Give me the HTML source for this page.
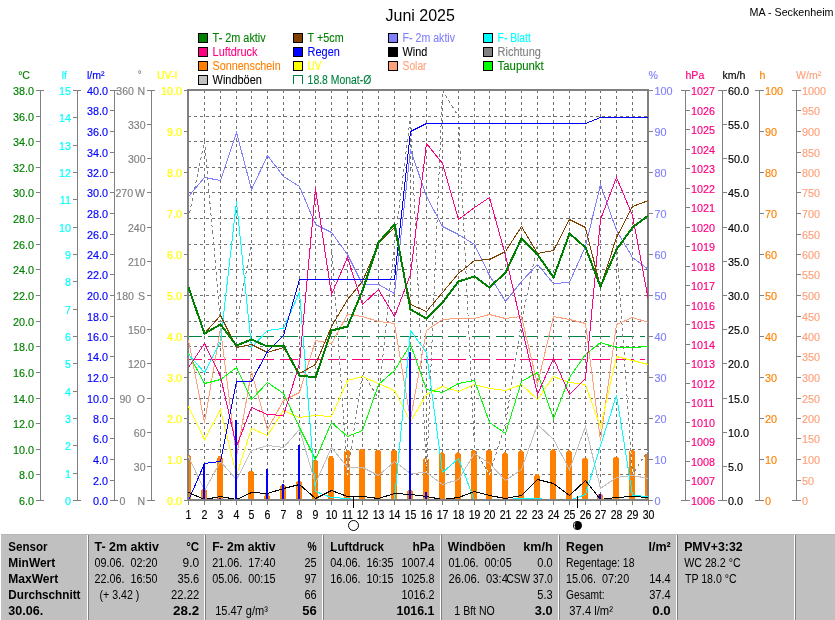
<!DOCTYPE html>
<html><head><meta charset="utf-8"><title>Juni 2025</title>
<style>html,body{margin:0;padding:0;background:#fff;}body{width:835px;height:620px;overflow:hidden;font-family:"Liberation Sans",sans-serif;}</style></head>
<body>
<svg width="835" height="620" viewBox="0 0 835 620" style="display:block;will-change:transform">
<rect x="0" y="0" width="835" height="620" fill="#fff"/>
<text x="385.5" y="20.8" font-family="Liberation Sans, sans-serif" font-size="16" fill="#000">Juni 2025</text>
<text x="833.5" y="16" font-family="Liberation Sans, sans-serif" font-size="11" fill="#000" text-anchor="end" textLength="84" lengthAdjust="spacingAndGlyphs">MA - Seckenheim</text>
<rect x="198.5" y="33.5" width="9" height="9" fill="#008000" stroke="#000" stroke-width="1" shape-rendering="crispEdges"/>
<text x="212.6" y="42" font-family="Liberation Sans, sans-serif" font-size="12" fill="#008000" stroke="#008000" stroke-width="0.1" textLength="53.1" lengthAdjust="spacingAndGlyphs">T- 2m aktiv</text>
<rect x="198.5" y="47.5" width="9" height="9" fill="#FF0080" stroke="#000" stroke-width="1" shape-rendering="crispEdges"/>
<text x="212.6" y="56" font-family="Liberation Sans, sans-serif" font-size="12" fill="#FF0080" stroke="#FF0080" stroke-width="0.1" textLength="44.8" lengthAdjust="spacingAndGlyphs">Luftdruck</text>
<rect x="198.5" y="61.5" width="9" height="9" fill="#FF8000" stroke="#000" stroke-width="1" shape-rendering="crispEdges"/>
<text x="212.6" y="70" font-family="Liberation Sans, sans-serif" font-size="12" fill="#FF8000" stroke="#FF8000" stroke-width="0.1" textLength="68.0" lengthAdjust="spacingAndGlyphs">Sonnenschein</text>
<rect x="198.5" y="75.5" width="9" height="9" fill="#C0C0C0" stroke="#000" stroke-width="1" shape-rendering="crispEdges"/>
<text x="212.6" y="84" font-family="Liberation Sans, sans-serif" font-size="12" fill="#000000" stroke="#000000" stroke-width="0.1" textLength="49.3" lengthAdjust="spacingAndGlyphs">Windböen</text>
<rect x="293.5" y="33.5" width="9" height="9" fill="#804000" stroke="#000" stroke-width="1" shape-rendering="crispEdges"/>
<text x="307.6" y="42" font-family="Liberation Sans, sans-serif" font-size="12" fill="#008000" stroke="#008000" stroke-width="0.1" textLength="36.0" lengthAdjust="spacingAndGlyphs">T +5cm</text>
<rect x="293.5" y="47.5" width="9" height="9" fill="#0000FF" stroke="#000" stroke-width="1" shape-rendering="crispEdges"/>
<text x="307.6" y="56" font-family="Liberation Sans, sans-serif" font-size="12" fill="#0000FF" stroke="#0000FF" stroke-width="0.1" textLength="32.2" lengthAdjust="spacingAndGlyphs">Regen</text>
<rect x="293.5" y="61.5" width="9" height="9" fill="#FFFF00" stroke="#000" stroke-width="1" shape-rendering="crispEdges"/>
<text x="307.6" y="70" font-family="Liberation Sans, sans-serif" font-size="12" fill="#FFFF00" stroke="#FFFF00" stroke-width="0.1" textLength="13.8" lengthAdjust="spacingAndGlyphs">UV</text>
<path d="M293.5,84 V75.5 H302.5 V84" fill="none" stroke="#008040" stroke-width="1" shape-rendering="crispEdges"/>
<text x="307.6" y="84" font-family="Liberation Sans, sans-serif" font-size="12" fill="#008040" stroke="#008040" stroke-width="0.1" textLength="63.7" lengthAdjust="spacingAndGlyphs">18.8 Monat-Ø</text>
<rect x="388.5" y="33.5" width="9" height="9" fill="#8080FF" stroke="#000" stroke-width="1" shape-rendering="crispEdges"/>
<text x="402.6" y="42" font-family="Liberation Sans, sans-serif" font-size="12" fill="#8080FF" stroke="#8080FF" stroke-width="0.1" textLength="52.4" lengthAdjust="spacingAndGlyphs">F- 2m aktiv</text>
<rect x="388.5" y="47.5" width="9" height="9" fill="#000000" stroke="#000" stroke-width="1" shape-rendering="crispEdges"/>
<text x="402.6" y="56" font-family="Liberation Sans, sans-serif" font-size="12" fill="#000000" stroke="#000000" stroke-width="0.1" textLength="24.7" lengthAdjust="spacingAndGlyphs">Wind</text>
<rect x="388.5" y="61.5" width="9" height="9" fill="#FFA07A" stroke="#000" stroke-width="1" shape-rendering="crispEdges"/>
<text x="402.6" y="70" font-family="Liberation Sans, sans-serif" font-size="12" fill="#FFA07A" stroke="#FFA07A" stroke-width="0.1" textLength="23.9" lengthAdjust="spacingAndGlyphs">Solar</text>
<rect x="483.5" y="33.5" width="9" height="9" fill="#00FFFF" stroke="#000" stroke-width="1" shape-rendering="crispEdges"/>
<text x="497.6" y="42" font-family="Liberation Sans, sans-serif" font-size="12" fill="#00FFFF" stroke="#00FFFF" stroke-width="0.1" textLength="33.2" lengthAdjust="spacingAndGlyphs">F- Blatt</text>
<rect x="483.5" y="47.5" width="9" height="9" fill="#808080" stroke="#000" stroke-width="1" shape-rendering="crispEdges"/>
<text x="497.6" y="56" font-family="Liberation Sans, sans-serif" font-size="12" fill="#808080" stroke="#808080" stroke-width="0.1" textLength="43.3" lengthAdjust="spacingAndGlyphs">Richtung</text>
<rect x="483.5" y="61.5" width="9" height="9" fill="#00FF00" stroke="#000" stroke-width="1" shape-rendering="crispEdges"/>
<text x="497.6" y="70" font-family="Liberation Sans, sans-serif" font-size="12" fill="#008000" stroke="#008000" stroke-width="0.1" textLength="46.1" lengthAdjust="spacingAndGlyphs">Taupunkt</text>
<rect x="40" y="90" width="1" height="411" fill="#808080"/>
<rect x="36" y="500" width="8" height="1" fill="#808080"/>
<text transform="translate(34,504.7) scale(0.985,1)" font-family="Liberation Sans, sans-serif" font-size="11" fill="#008000" stroke="#008000" stroke-width="0.15" text-anchor="end">6.0</text>
<rect x="36" y="474" width="4" height="1" fill="#808080"/>
<text transform="translate(34,478.7) scale(0.985,1)" font-family="Liberation Sans, sans-serif" font-size="11" fill="#008000" stroke="#008000" stroke-width="0.15" text-anchor="end">8.0</text>
<rect x="36" y="449" width="4" height="1" fill="#808080"/>
<text transform="translate(34,453.7) scale(0.985,1)" font-family="Liberation Sans, sans-serif" font-size="11" fill="#008000" stroke="#008000" stroke-width="0.15" text-anchor="end">10.0</text>
<rect x="36" y="423" width="4" height="1" fill="#808080"/>
<text transform="translate(34,427.7) scale(0.985,1)" font-family="Liberation Sans, sans-serif" font-size="11" fill="#008000" stroke="#008000" stroke-width="0.15" text-anchor="end">12.0</text>
<rect x="36" y="398" width="4" height="1" fill="#808080"/>
<text transform="translate(34,402.7) scale(0.985,1)" font-family="Liberation Sans, sans-serif" font-size="11" fill="#008000" stroke="#008000" stroke-width="0.15" text-anchor="end">14.0</text>
<rect x="36" y="372" width="4" height="1" fill="#808080"/>
<text transform="translate(34,376.7) scale(0.985,1)" font-family="Liberation Sans, sans-serif" font-size="11" fill="#008000" stroke="#008000" stroke-width="0.15" text-anchor="end">16.0</text>
<rect x="36" y="346" width="4" height="1" fill="#808080"/>
<text transform="translate(34,350.7) scale(0.985,1)" font-family="Liberation Sans, sans-serif" font-size="11" fill="#008000" stroke="#008000" stroke-width="0.15" text-anchor="end">18.0</text>
<rect x="36" y="321" width="4" height="1" fill="#808080"/>
<text transform="translate(34,325.7) scale(0.985,1)" font-family="Liberation Sans, sans-serif" font-size="11" fill="#008000" stroke="#008000" stroke-width="0.15" text-anchor="end">20.0</text>
<rect x="36" y="295" width="4" height="1" fill="#808080"/>
<text transform="translate(34,299.7) scale(0.985,1)" font-family="Liberation Sans, sans-serif" font-size="11" fill="#008000" stroke="#008000" stroke-width="0.15" text-anchor="end">22.0</text>
<rect x="36" y="269" width="4" height="1" fill="#808080"/>
<text transform="translate(34,273.7) scale(0.985,1)" font-family="Liberation Sans, sans-serif" font-size="11" fill="#008000" stroke="#008000" stroke-width="0.15" text-anchor="end">24.0</text>
<rect x="36" y="244" width="4" height="1" fill="#808080"/>
<text transform="translate(34,248.7) scale(0.985,1)" font-family="Liberation Sans, sans-serif" font-size="11" fill="#008000" stroke="#008000" stroke-width="0.15" text-anchor="end">26.0</text>
<rect x="36" y="218" width="4" height="1" fill="#808080"/>
<text transform="translate(34,222.7) scale(0.985,1)" font-family="Liberation Sans, sans-serif" font-size="11" fill="#008000" stroke="#008000" stroke-width="0.15" text-anchor="end">28.0</text>
<rect x="36" y="192" width="4" height="1" fill="#808080"/>
<text transform="translate(34,196.7) scale(0.985,1)" font-family="Liberation Sans, sans-serif" font-size="11" fill="#008000" stroke="#008000" stroke-width="0.15" text-anchor="end">30.0</text>
<rect x="36" y="167" width="4" height="1" fill="#808080"/>
<text transform="translate(34,171.7) scale(0.985,1)" font-family="Liberation Sans, sans-serif" font-size="11" fill="#008000" stroke="#008000" stroke-width="0.15" text-anchor="end">32.0</text>
<rect x="36" y="141" width="4" height="1" fill="#808080"/>
<text transform="translate(34,145.7) scale(0.985,1)" font-family="Liberation Sans, sans-serif" font-size="11" fill="#008000" stroke="#008000" stroke-width="0.15" text-anchor="end">34.0</text>
<rect x="36" y="116" width="4" height="1" fill="#808080"/>
<text transform="translate(34,120.7) scale(0.985,1)" font-family="Liberation Sans, sans-serif" font-size="11" fill="#008000" stroke="#008000" stroke-width="0.15" text-anchor="end">36.0</text>
<rect x="36" y="90" width="8" height="1" fill="#808080"/>
<text transform="translate(34,94.7) scale(0.985,1)" font-family="Liberation Sans, sans-serif" font-size="11" fill="#008000" stroke="#008000" stroke-width="0.15" text-anchor="end">38.0</text>
<text transform="translate(30,79.2) scale(0.96,1)" font-family="Liberation Sans, sans-serif" font-size="11" fill="#008000" stroke="#008000" stroke-width="0.15" text-anchor="end">°C</text>
<rect x="77" y="90" width="1" height="411" fill="#808080"/>
<rect x="73" y="500" width="8" height="1" fill="#808080"/>
<text transform="translate(71,504.7) scale(0.985,1)" font-family="Liberation Sans, sans-serif" font-size="11" fill="#00FFFF" stroke="#00FFFF" stroke-width="0.15" text-anchor="end">0</text>
<rect x="73" y="473" width="4" height="1" fill="#808080"/>
<text transform="translate(71,477.7) scale(0.985,1)" font-family="Liberation Sans, sans-serif" font-size="11" fill="#00FFFF" stroke="#00FFFF" stroke-width="0.15" text-anchor="end">1</text>
<rect x="73" y="445" width="4" height="1" fill="#808080"/>
<text transform="translate(71,449.7) scale(0.985,1)" font-family="Liberation Sans, sans-serif" font-size="11" fill="#00FFFF" stroke="#00FFFF" stroke-width="0.15" text-anchor="end">2</text>
<rect x="73" y="418" width="4" height="1" fill="#808080"/>
<text transform="translate(71,422.7) scale(0.985,1)" font-family="Liberation Sans, sans-serif" font-size="11" fill="#00FFFF" stroke="#00FFFF" stroke-width="0.15" text-anchor="end">3</text>
<rect x="73" y="391" width="4" height="1" fill="#808080"/>
<text transform="translate(71,395.7) scale(0.985,1)" font-family="Liberation Sans, sans-serif" font-size="11" fill="#00FFFF" stroke="#00FFFF" stroke-width="0.15" text-anchor="end">4</text>
<rect x="73" y="363" width="4" height="1" fill="#808080"/>
<text transform="translate(71,367.7) scale(0.985,1)" font-family="Liberation Sans, sans-serif" font-size="11" fill="#00FFFF" stroke="#00FFFF" stroke-width="0.15" text-anchor="end">5</text>
<rect x="73" y="336" width="4" height="1" fill="#808080"/>
<text transform="translate(71,340.7) scale(0.985,1)" font-family="Liberation Sans, sans-serif" font-size="11" fill="#00FFFF" stroke="#00FFFF" stroke-width="0.15" text-anchor="end">6</text>
<rect x="73" y="309" width="4" height="1" fill="#808080"/>
<text transform="translate(71,313.7) scale(0.985,1)" font-family="Liberation Sans, sans-serif" font-size="11" fill="#00FFFF" stroke="#00FFFF" stroke-width="0.15" text-anchor="end">7</text>
<rect x="73" y="281" width="4" height="1" fill="#808080"/>
<text transform="translate(71,285.7) scale(0.985,1)" font-family="Liberation Sans, sans-serif" font-size="11" fill="#00FFFF" stroke="#00FFFF" stroke-width="0.15" text-anchor="end">8</text>
<rect x="73" y="254" width="4" height="1" fill="#808080"/>
<text transform="translate(71,258.7) scale(0.985,1)" font-family="Liberation Sans, sans-serif" font-size="11" fill="#00FFFF" stroke="#00FFFF" stroke-width="0.15" text-anchor="end">9</text>
<rect x="73" y="227" width="4" height="1" fill="#808080"/>
<text transform="translate(71,231.7) scale(0.985,1)" font-family="Liberation Sans, sans-serif" font-size="11" fill="#00FFFF" stroke="#00FFFF" stroke-width="0.15" text-anchor="end">10</text>
<rect x="73" y="199" width="4" height="1" fill="#808080"/>
<text transform="translate(71,203.7) scale(0.985,1)" font-family="Liberation Sans, sans-serif" font-size="11" fill="#00FFFF" stroke="#00FFFF" stroke-width="0.15" text-anchor="end">11</text>
<rect x="73" y="172" width="4" height="1" fill="#808080"/>
<text transform="translate(71,176.7) scale(0.985,1)" font-family="Liberation Sans, sans-serif" font-size="11" fill="#00FFFF" stroke="#00FFFF" stroke-width="0.15" text-anchor="end">12</text>
<rect x="73" y="145" width="4" height="1" fill="#808080"/>
<text transform="translate(71,149.7) scale(0.985,1)" font-family="Liberation Sans, sans-serif" font-size="11" fill="#00FFFF" stroke="#00FFFF" stroke-width="0.15" text-anchor="end">13</text>
<rect x="73" y="117" width="4" height="1" fill="#808080"/>
<text transform="translate(71,121.7) scale(0.985,1)" font-family="Liberation Sans, sans-serif" font-size="11" fill="#00FFFF" stroke="#00FFFF" stroke-width="0.15" text-anchor="end">14</text>
<rect x="73" y="90" width="8" height="1" fill="#808080"/>
<text transform="translate(71,94.7) scale(0.985,1)" font-family="Liberation Sans, sans-serif" font-size="11" fill="#00FFFF" stroke="#00FFFF" stroke-width="0.15" text-anchor="end">15</text>
<text transform="translate(67,79.2) scale(0.96,1)" font-family="Liberation Sans, sans-serif" font-size="11" fill="#00FFFF" stroke="#00FFFF" stroke-width="0.15" text-anchor="end">lf</text>
<rect x="114" y="90" width="1" height="411" fill="#808080"/>
<rect x="110" y="500" width="8" height="1" fill="#808080"/>
<text transform="translate(108,504.7) scale(0.985,1)" font-family="Liberation Sans, sans-serif" font-size="11" fill="#0000FF" stroke="#0000FF" stroke-width="0.15" text-anchor="end">0.0</text>
<rect x="110" y="480" width="4" height="1" fill="#808080"/>
<text transform="translate(108,484.7) scale(0.985,1)" font-family="Liberation Sans, sans-serif" font-size="11" fill="#0000FF" stroke="#0000FF" stroke-width="0.15" text-anchor="end">2.0</text>
<rect x="110" y="459" width="4" height="1" fill="#808080"/>
<text transform="translate(108,463.7) scale(0.985,1)" font-family="Liberation Sans, sans-serif" font-size="11" fill="#0000FF" stroke="#0000FF" stroke-width="0.15" text-anchor="end">4.0</text>
<rect x="110" y="438" width="4" height="1" fill="#808080"/>
<text transform="translate(108,442.7) scale(0.985,1)" font-family="Liberation Sans, sans-serif" font-size="11" fill="#0000FF" stroke="#0000FF" stroke-width="0.15" text-anchor="end">6.0</text>
<rect x="110" y="418" width="4" height="1" fill="#808080"/>
<text transform="translate(108,422.7) scale(0.985,1)" font-family="Liberation Sans, sans-serif" font-size="11" fill="#0000FF" stroke="#0000FF" stroke-width="0.15" text-anchor="end">8.0</text>
<rect x="110" y="398" width="4" height="1" fill="#808080"/>
<text transform="translate(108,402.7) scale(0.985,1)" font-family="Liberation Sans, sans-serif" font-size="11" fill="#0000FF" stroke="#0000FF" stroke-width="0.15" text-anchor="end">10.0</text>
<rect x="110" y="377" width="4" height="1" fill="#808080"/>
<text transform="translate(108,381.7) scale(0.985,1)" font-family="Liberation Sans, sans-serif" font-size="11" fill="#0000FF" stroke="#0000FF" stroke-width="0.15" text-anchor="end">12.0</text>
<rect x="110" y="356" width="4" height="1" fill="#808080"/>
<text transform="translate(108,360.7) scale(0.985,1)" font-family="Liberation Sans, sans-serif" font-size="11" fill="#0000FF" stroke="#0000FF" stroke-width="0.15" text-anchor="end">14.0</text>
<rect x="110" y="336" width="4" height="1" fill="#808080"/>
<text transform="translate(108,340.7) scale(0.985,1)" font-family="Liberation Sans, sans-serif" font-size="11" fill="#0000FF" stroke="#0000FF" stroke-width="0.15" text-anchor="end">16.0</text>
<rect x="110" y="316" width="4" height="1" fill="#808080"/>
<text transform="translate(108,320.7) scale(0.985,1)" font-family="Liberation Sans, sans-serif" font-size="11" fill="#0000FF" stroke="#0000FF" stroke-width="0.15" text-anchor="end">18.0</text>
<rect x="110" y="295" width="4" height="1" fill="#808080"/>
<text transform="translate(108,299.7) scale(0.985,1)" font-family="Liberation Sans, sans-serif" font-size="11" fill="#0000FF" stroke="#0000FF" stroke-width="0.15" text-anchor="end">20.0</text>
<rect x="110" y="274" width="4" height="1" fill="#808080"/>
<text transform="translate(108,278.7) scale(0.985,1)" font-family="Liberation Sans, sans-serif" font-size="11" fill="#0000FF" stroke="#0000FF" stroke-width="0.15" text-anchor="end">22.0</text>
<rect x="110" y="254" width="4" height="1" fill="#808080"/>
<text transform="translate(108,258.7) scale(0.985,1)" font-family="Liberation Sans, sans-serif" font-size="11" fill="#0000FF" stroke="#0000FF" stroke-width="0.15" text-anchor="end">24.0</text>
<rect x="110" y="234" width="4" height="1" fill="#808080"/>
<text transform="translate(108,238.7) scale(0.985,1)" font-family="Liberation Sans, sans-serif" font-size="11" fill="#0000FF" stroke="#0000FF" stroke-width="0.15" text-anchor="end">26.0</text>
<rect x="110" y="213" width="4" height="1" fill="#808080"/>
<text transform="translate(108,217.7) scale(0.985,1)" font-family="Liberation Sans, sans-serif" font-size="11" fill="#0000FF" stroke="#0000FF" stroke-width="0.15" text-anchor="end">28.0</text>
<rect x="110" y="192" width="4" height="1" fill="#808080"/>
<text transform="translate(108,196.7) scale(0.985,1)" font-family="Liberation Sans, sans-serif" font-size="11" fill="#0000FF" stroke="#0000FF" stroke-width="0.15" text-anchor="end">30.0</text>
<rect x="110" y="172" width="4" height="1" fill="#808080"/>
<text transform="translate(108,176.7) scale(0.985,1)" font-family="Liberation Sans, sans-serif" font-size="11" fill="#0000FF" stroke="#0000FF" stroke-width="0.15" text-anchor="end">32.0</text>
<rect x="110" y="152" width="4" height="1" fill="#808080"/>
<text transform="translate(108,156.7) scale(0.985,1)" font-family="Liberation Sans, sans-serif" font-size="11" fill="#0000FF" stroke="#0000FF" stroke-width="0.15" text-anchor="end">34.0</text>
<rect x="110" y="131" width="4" height="1" fill="#808080"/>
<text transform="translate(108,135.7) scale(0.985,1)" font-family="Liberation Sans, sans-serif" font-size="11" fill="#0000FF" stroke="#0000FF" stroke-width="0.15" text-anchor="end">36.0</text>
<rect x="110" y="110" width="4" height="1" fill="#808080"/>
<text transform="translate(108,114.7) scale(0.985,1)" font-family="Liberation Sans, sans-serif" font-size="11" fill="#0000FF" stroke="#0000FF" stroke-width="0.15" text-anchor="end">38.0</text>
<rect x="110" y="90" width="8" height="1" fill="#808080"/>
<text transform="translate(108,94.7) scale(0.985,1)" font-family="Liberation Sans, sans-serif" font-size="11" fill="#0000FF" stroke="#0000FF" stroke-width="0.15" text-anchor="end">40.0</text>
<text transform="translate(104.5,79.2) scale(0.96,1)" font-family="Liberation Sans, sans-serif" font-size="11" fill="#0000FF" stroke="#0000FF" stroke-width="0.15" text-anchor="end">l/m²</text>
<rect x="151" y="90" width="1" height="411" fill="#808080"/>
<rect x="147" y="500" width="8" height="1" fill="#808080"/>
<text transform="translate(145,504.7) scale(0.96,1)" font-family="Liberation Sans, sans-serif" font-size="11" fill="#808080" stroke="#808080" stroke-width="0.15" text-anchor="end">N</text>
<text transform="translate(119.5,504.7) scale(0.96,1)" font-family="Liberation Sans, sans-serif" font-size="11" fill="#808080" stroke="#808080" stroke-width="0.15" text-anchor="start">0</text>
<rect x="147" y="466" width="4" height="1" fill="#808080"/>
<text transform="translate(145.5,470.7) scale(0.96,1)" font-family="Liberation Sans, sans-serif" font-size="11" fill="#808080" stroke="#808080" stroke-width="0.15" text-anchor="end">30</text>
<rect x="147" y="432" width="4" height="1" fill="#808080"/>
<text transform="translate(145.5,436.7) scale(0.96,1)" font-family="Liberation Sans, sans-serif" font-size="11" fill="#808080" stroke="#808080" stroke-width="0.15" text-anchor="end">60</text>
<rect x="147" y="398" width="4" height="1" fill="#808080"/>
<text transform="translate(145,402.7) scale(0.96,1)" font-family="Liberation Sans, sans-serif" font-size="11" fill="#808080" stroke="#808080" stroke-width="0.15" text-anchor="end">O</text>
<text transform="translate(119.5,402.7) scale(0.96,1)" font-family="Liberation Sans, sans-serif" font-size="11" fill="#808080" stroke="#808080" stroke-width="0.15" text-anchor="start">90</text>
<rect x="147" y="363" width="4" height="1" fill="#808080"/>
<text transform="translate(145.5,367.7) scale(0.96,1)" font-family="Liberation Sans, sans-serif" font-size="11" fill="#808080" stroke="#808080" stroke-width="0.15" text-anchor="end">120</text>
<rect x="147" y="329" width="4" height="1" fill="#808080"/>
<text transform="translate(145.5,333.7) scale(0.96,1)" font-family="Liberation Sans, sans-serif" font-size="11" fill="#808080" stroke="#808080" stroke-width="0.15" text-anchor="end">150</text>
<rect x="147" y="295" width="4" height="1" fill="#808080"/>
<text transform="translate(145,299.7) scale(0.96,1)" font-family="Liberation Sans, sans-serif" font-size="11" fill="#808080" stroke="#808080" stroke-width="0.15" text-anchor="end">S</text>
<text transform="translate(116.3,299.7) scale(0.96,1)" font-family="Liberation Sans, sans-serif" font-size="11" fill="#808080" stroke="#808080" stroke-width="0.15" text-anchor="start">180</text>
<rect x="147" y="261" width="4" height="1" fill="#808080"/>
<text transform="translate(145.5,265.7) scale(0.96,1)" font-family="Liberation Sans, sans-serif" font-size="11" fill="#808080" stroke="#808080" stroke-width="0.15" text-anchor="end">210</text>
<rect x="147" y="227" width="4" height="1" fill="#808080"/>
<text transform="translate(145.5,231.7) scale(0.96,1)" font-family="Liberation Sans, sans-serif" font-size="11" fill="#808080" stroke="#808080" stroke-width="0.15" text-anchor="end">240</text>
<rect x="147" y="192" width="4" height="1" fill="#808080"/>
<text transform="translate(145,196.7) scale(0.96,1)" font-family="Liberation Sans, sans-serif" font-size="11" fill="#808080" stroke="#808080" stroke-width="0.15" text-anchor="end">W</text>
<text transform="translate(115.5,196.7) scale(0.96,1)" font-family="Liberation Sans, sans-serif" font-size="11" fill="#808080" stroke="#808080" stroke-width="0.15" text-anchor="start">270</text>
<rect x="147" y="158" width="4" height="1" fill="#808080"/>
<text transform="translate(145.5,162.7) scale(0.96,1)" font-family="Liberation Sans, sans-serif" font-size="11" fill="#808080" stroke="#808080" stroke-width="0.15" text-anchor="end">300</text>
<rect x="147" y="124" width="4" height="1" fill="#808080"/>
<text transform="translate(145.5,128.7) scale(0.96,1)" font-family="Liberation Sans, sans-serif" font-size="11" fill="#808080" stroke="#808080" stroke-width="0.15" text-anchor="end">330</text>
<rect x="147" y="90" width="8" height="1" fill="#808080"/>
<text transform="translate(145,94.7) scale(0.96,1)" font-family="Liberation Sans, sans-serif" font-size="11" fill="#808080" stroke="#808080" stroke-width="0.15" text-anchor="end">N</text>
<text transform="translate(116.3,94.7) scale(0.96,1)" font-family="Liberation Sans, sans-serif" font-size="11" fill="#808080" stroke="#808080" stroke-width="0.15" text-anchor="start">360</text>
<text transform="translate(141.5,78.2) scale(0.96,1)" font-family="Liberation Sans, sans-serif" font-size="10" fill="#808080" stroke="#808080" stroke-width="0.15" text-anchor="end">°</text>
<rect x="184" y="500" width="3" height="1" fill="#808080"/>
<text transform="translate(182,504.7) scale(0.985,1)" font-family="Liberation Sans, sans-serif" font-size="11" fill="#FFFF00" stroke="#FFFF00" stroke-width="0.15" text-anchor="end">0.0</text>
<rect x="184" y="459" width="3" height="1" fill="#808080"/>
<text transform="translate(182,463.7) scale(0.985,1)" font-family="Liberation Sans, sans-serif" font-size="11" fill="#FFFF00" stroke="#FFFF00" stroke-width="0.15" text-anchor="end">1.0</text>
<rect x="184" y="418" width="3" height="1" fill="#808080"/>
<text transform="translate(182,422.7) scale(0.985,1)" font-family="Liberation Sans, sans-serif" font-size="11" fill="#FFFF00" stroke="#FFFF00" stroke-width="0.15" text-anchor="end">2.0</text>
<rect x="184" y="377" width="3" height="1" fill="#808080"/>
<text transform="translate(182,381.7) scale(0.985,1)" font-family="Liberation Sans, sans-serif" font-size="11" fill="#FFFF00" stroke="#FFFF00" stroke-width="0.15" text-anchor="end">3.0</text>
<rect x="184" y="336" width="3" height="1" fill="#808080"/>
<text transform="translate(182,340.7) scale(0.985,1)" font-family="Liberation Sans, sans-serif" font-size="11" fill="#FFFF00" stroke="#FFFF00" stroke-width="0.15" text-anchor="end">4.0</text>
<rect x="184" y="295" width="3" height="1" fill="#808080"/>
<text transform="translate(182,299.7) scale(0.985,1)" font-family="Liberation Sans, sans-serif" font-size="11" fill="#FFFF00" stroke="#FFFF00" stroke-width="0.15" text-anchor="end">5.0</text>
<rect x="184" y="254" width="3" height="1" fill="#808080"/>
<text transform="translate(182,258.7) scale(0.985,1)" font-family="Liberation Sans, sans-serif" font-size="11" fill="#FFFF00" stroke="#FFFF00" stroke-width="0.15" text-anchor="end">6.0</text>
<rect x="184" y="213" width="3" height="1" fill="#808080"/>
<text transform="translate(182,217.7) scale(0.985,1)" font-family="Liberation Sans, sans-serif" font-size="11" fill="#FFFF00" stroke="#FFFF00" stroke-width="0.15" text-anchor="end">7.0</text>
<rect x="184" y="172" width="3" height="1" fill="#808080"/>
<text transform="translate(182,176.7) scale(0.985,1)" font-family="Liberation Sans, sans-serif" font-size="11" fill="#FFFF00" stroke="#FFFF00" stroke-width="0.15" text-anchor="end">8.0</text>
<rect x="184" y="131" width="3" height="1" fill="#808080"/>
<text transform="translate(182,135.7) scale(0.985,1)" font-family="Liberation Sans, sans-serif" font-size="11" fill="#FFFF00" stroke="#FFFF00" stroke-width="0.15" text-anchor="end">9.0</text>
<rect x="184" y="90" width="3" height="1" fill="#808080"/>
<text transform="translate(182,94.7) scale(0.985,1)" font-family="Liberation Sans, sans-serif" font-size="11" fill="#FFFF00" stroke="#FFFF00" stroke-width="0.15" text-anchor="end">10.0</text>
<text transform="translate(177.5,79.2) scale(0.96,1)" font-family="Liberation Sans, sans-serif" font-size="11" fill="#FFFF00" stroke="#FFFF00" stroke-width="0.15" text-anchor="end">UV-I</text>
<rect x="649" y="500" width="4" height="1" fill="#808080"/>
<text transform="translate(654.5,504.7) scale(0.985,1)" font-family="Liberation Sans, sans-serif" font-size="11" fill="#8080FF" stroke="#8080FF" stroke-width="0.15" text-anchor="start">0</text>
<rect x="649" y="459" width="4" height="1" fill="#808080"/>
<text transform="translate(654.5,463.7) scale(0.985,1)" font-family="Liberation Sans, sans-serif" font-size="11" fill="#8080FF" stroke="#8080FF" stroke-width="0.15" text-anchor="start">10</text>
<rect x="649" y="418" width="4" height="1" fill="#808080"/>
<text transform="translate(654.5,422.7) scale(0.985,1)" font-family="Liberation Sans, sans-serif" font-size="11" fill="#8080FF" stroke="#8080FF" stroke-width="0.15" text-anchor="start">20</text>
<rect x="649" y="377" width="4" height="1" fill="#808080"/>
<text transform="translate(654.5,381.7) scale(0.985,1)" font-family="Liberation Sans, sans-serif" font-size="11" fill="#8080FF" stroke="#8080FF" stroke-width="0.15" text-anchor="start">30</text>
<rect x="649" y="336" width="4" height="1" fill="#808080"/>
<text transform="translate(654.5,340.7) scale(0.985,1)" font-family="Liberation Sans, sans-serif" font-size="11" fill="#8080FF" stroke="#8080FF" stroke-width="0.15" text-anchor="start">40</text>
<rect x="649" y="295" width="4" height="1" fill="#808080"/>
<text transform="translate(654.5,299.7) scale(0.985,1)" font-family="Liberation Sans, sans-serif" font-size="11" fill="#8080FF" stroke="#8080FF" stroke-width="0.15" text-anchor="start">50</text>
<rect x="649" y="254" width="4" height="1" fill="#808080"/>
<text transform="translate(654.5,258.7) scale(0.985,1)" font-family="Liberation Sans, sans-serif" font-size="11" fill="#8080FF" stroke="#8080FF" stroke-width="0.15" text-anchor="start">60</text>
<rect x="649" y="213" width="4" height="1" fill="#808080"/>
<text transform="translate(654.5,217.7) scale(0.985,1)" font-family="Liberation Sans, sans-serif" font-size="11" fill="#8080FF" stroke="#8080FF" stroke-width="0.15" text-anchor="start">70</text>
<rect x="649" y="172" width="4" height="1" fill="#808080"/>
<text transform="translate(654.5,176.7) scale(0.985,1)" font-family="Liberation Sans, sans-serif" font-size="11" fill="#8080FF" stroke="#8080FF" stroke-width="0.15" text-anchor="start">80</text>
<rect x="649" y="131" width="4" height="1" fill="#808080"/>
<text transform="translate(654.5,135.7) scale(0.985,1)" font-family="Liberation Sans, sans-serif" font-size="11" fill="#8080FF" stroke="#8080FF" stroke-width="0.15" text-anchor="start">90</text>
<rect x="649" y="90" width="4" height="1" fill="#808080"/>
<text transform="translate(654.5,94.7) scale(0.985,1)" font-family="Liberation Sans, sans-serif" font-size="11" fill="#8080FF" stroke="#8080FF" stroke-width="0.15" text-anchor="start">100</text>
<text transform="translate(648.5,79.2) scale(0.96,1)" font-family="Liberation Sans, sans-serif" font-size="11" fill="#8080FF" stroke="#8080FF" stroke-width="0.15" text-anchor="start">%</text>
<rect x="685" y="90" width="1" height="411" fill="#808080"/>
<rect x="681" y="500" width="9" height="1" fill="#808080"/>
<text transform="translate(691,504.7) scale(0.985,1)" font-family="Liberation Sans, sans-serif" font-size="11" fill="#FF0080" stroke="#FF0080" stroke-width="0.15" text-anchor="start">1006</text>
<rect x="686" y="480" width="4" height="1" fill="#808080"/>
<text transform="translate(691,484.7) scale(0.985,1)" font-family="Liberation Sans, sans-serif" font-size="11" fill="#FF0080" stroke="#FF0080" stroke-width="0.15" text-anchor="start">1007</text>
<rect x="686" y="461" width="4" height="1" fill="#808080"/>
<text transform="translate(691,465.7) scale(0.985,1)" font-family="Liberation Sans, sans-serif" font-size="11" fill="#FF0080" stroke="#FF0080" stroke-width="0.15" text-anchor="start">1008</text>
<rect x="686" y="441" width="4" height="1" fill="#808080"/>
<text transform="translate(691,445.7) scale(0.985,1)" font-family="Liberation Sans, sans-serif" font-size="11" fill="#FF0080" stroke="#FF0080" stroke-width="0.15" text-anchor="start">1009</text>
<rect x="686" y="422" width="4" height="1" fill="#808080"/>
<text transform="translate(691,426.7) scale(0.985,1)" font-family="Liberation Sans, sans-serif" font-size="11" fill="#FF0080" stroke="#FF0080" stroke-width="0.15" text-anchor="start">1010</text>
<rect x="686" y="402" width="4" height="1" fill="#808080"/>
<text transform="translate(691,406.7) scale(0.985,1)" font-family="Liberation Sans, sans-serif" font-size="11" fill="#FF0080" stroke="#FF0080" stroke-width="0.15" text-anchor="start">1011</text>
<rect x="686" y="383" width="4" height="1" fill="#808080"/>
<text transform="translate(691,387.7) scale(0.985,1)" font-family="Liberation Sans, sans-serif" font-size="11" fill="#FF0080" stroke="#FF0080" stroke-width="0.15" text-anchor="start">1012</text>
<rect x="686" y="363" width="4" height="1" fill="#808080"/>
<text transform="translate(691,367.7) scale(0.985,1)" font-family="Liberation Sans, sans-serif" font-size="11" fill="#FF0080" stroke="#FF0080" stroke-width="0.15" text-anchor="start">1013</text>
<rect x="686" y="344" width="4" height="1" fill="#808080"/>
<text transform="translate(691,348.7) scale(0.985,1)" font-family="Liberation Sans, sans-serif" font-size="11" fill="#FF0080" stroke="#FF0080" stroke-width="0.15" text-anchor="start">1014</text>
<rect x="686" y="324" width="4" height="1" fill="#808080"/>
<text transform="translate(691,328.7) scale(0.985,1)" font-family="Liberation Sans, sans-serif" font-size="11" fill="#FF0080" stroke="#FF0080" stroke-width="0.15" text-anchor="start">1015</text>
<rect x="686" y="305" width="4" height="1" fill="#808080"/>
<text transform="translate(691,309.7) scale(0.985,1)" font-family="Liberation Sans, sans-serif" font-size="11" fill="#FF0080" stroke="#FF0080" stroke-width="0.15" text-anchor="start">1016</text>
<rect x="686" y="285" width="4" height="1" fill="#808080"/>
<text transform="translate(691,289.7) scale(0.985,1)" font-family="Liberation Sans, sans-serif" font-size="11" fill="#FF0080" stroke="#FF0080" stroke-width="0.15" text-anchor="start">1017</text>
<rect x="686" y="266" width="4" height="1" fill="#808080"/>
<text transform="translate(691,270.7) scale(0.985,1)" font-family="Liberation Sans, sans-serif" font-size="11" fill="#FF0080" stroke="#FF0080" stroke-width="0.15" text-anchor="start">1018</text>
<rect x="686" y="246" width="4" height="1" fill="#808080"/>
<text transform="translate(691,250.7) scale(0.985,1)" font-family="Liberation Sans, sans-serif" font-size="11" fill="#FF0080" stroke="#FF0080" stroke-width="0.15" text-anchor="start">1019</text>
<rect x="686" y="227" width="4" height="1" fill="#808080"/>
<text transform="translate(691,231.7) scale(0.985,1)" font-family="Liberation Sans, sans-serif" font-size="11" fill="#FF0080" stroke="#FF0080" stroke-width="0.15" text-anchor="start">1020</text>
<rect x="686" y="207" width="4" height="1" fill="#808080"/>
<text transform="translate(691,211.7) scale(0.985,1)" font-family="Liberation Sans, sans-serif" font-size="11" fill="#FF0080" stroke="#FF0080" stroke-width="0.15" text-anchor="start">1021</text>
<rect x="686" y="188" width="4" height="1" fill="#808080"/>
<text transform="translate(691,192.7) scale(0.985,1)" font-family="Liberation Sans, sans-serif" font-size="11" fill="#FF0080" stroke="#FF0080" stroke-width="0.15" text-anchor="start">1022</text>
<rect x="686" y="168" width="4" height="1" fill="#808080"/>
<text transform="translate(691,172.7) scale(0.985,1)" font-family="Liberation Sans, sans-serif" font-size="11" fill="#FF0080" stroke="#FF0080" stroke-width="0.15" text-anchor="start">1023</text>
<rect x="686" y="149" width="4" height="1" fill="#808080"/>
<text transform="translate(691,153.7) scale(0.985,1)" font-family="Liberation Sans, sans-serif" font-size="11" fill="#FF0080" stroke="#FF0080" stroke-width="0.15" text-anchor="start">1024</text>
<rect x="686" y="129" width="4" height="1" fill="#808080"/>
<text transform="translate(691,133.7) scale(0.985,1)" font-family="Liberation Sans, sans-serif" font-size="11" fill="#FF0080" stroke="#FF0080" stroke-width="0.15" text-anchor="start">1025</text>
<rect x="686" y="110" width="4" height="1" fill="#808080"/>
<text transform="translate(691,114.7) scale(0.985,1)" font-family="Liberation Sans, sans-serif" font-size="11" fill="#FF0080" stroke="#FF0080" stroke-width="0.15" text-anchor="start">1026</text>
<rect x="681" y="90" width="9" height="1" fill="#808080"/>
<text transform="translate(691,94.7) scale(0.985,1)" font-family="Liberation Sans, sans-serif" font-size="11" fill="#FF0080" stroke="#FF0080" stroke-width="0.15" text-anchor="start">1027</text>
<text transform="translate(685.5,79.2) scale(0.96,1)" font-family="Liberation Sans, sans-serif" font-size="11" fill="#FF0080" stroke="#FF0080" stroke-width="0.15" text-anchor="start">hPa</text>
<rect x="722" y="90" width="1" height="411" fill="#808080"/>
<rect x="718" y="500" width="9" height="1" fill="#808080"/>
<text transform="translate(728,504.7) scale(0.985,1)" font-family="Liberation Sans, sans-serif" font-size="11" fill="#000000" stroke="#000000" stroke-width="0.15" text-anchor="start">0.0</text>
<rect x="723" y="466" width="4" height="1" fill="#808080"/>
<text transform="translate(728,470.7) scale(0.985,1)" font-family="Liberation Sans, sans-serif" font-size="11" fill="#000000" stroke="#000000" stroke-width="0.15" text-anchor="start">5.0</text>
<rect x="723" y="432" width="4" height="1" fill="#808080"/>
<text transform="translate(728,436.7) scale(0.985,1)" font-family="Liberation Sans, sans-serif" font-size="11" fill="#000000" stroke="#000000" stroke-width="0.15" text-anchor="start">10.0</text>
<rect x="723" y="398" width="4" height="1" fill="#808080"/>
<text transform="translate(728,402.7) scale(0.985,1)" font-family="Liberation Sans, sans-serif" font-size="11" fill="#000000" stroke="#000000" stroke-width="0.15" text-anchor="start">15.0</text>
<rect x="723" y="363" width="4" height="1" fill="#808080"/>
<text transform="translate(728,367.7) scale(0.985,1)" font-family="Liberation Sans, sans-serif" font-size="11" fill="#000000" stroke="#000000" stroke-width="0.15" text-anchor="start">20.0</text>
<rect x="723" y="329" width="4" height="1" fill="#808080"/>
<text transform="translate(728,333.7) scale(0.985,1)" font-family="Liberation Sans, sans-serif" font-size="11" fill="#000000" stroke="#000000" stroke-width="0.15" text-anchor="start">25.0</text>
<rect x="723" y="295" width="4" height="1" fill="#808080"/>
<text transform="translate(728,299.7) scale(0.985,1)" font-family="Liberation Sans, sans-serif" font-size="11" fill="#000000" stroke="#000000" stroke-width="0.15" text-anchor="start">30.0</text>
<rect x="723" y="261" width="4" height="1" fill="#808080"/>
<text transform="translate(728,265.7) scale(0.985,1)" font-family="Liberation Sans, sans-serif" font-size="11" fill="#000000" stroke="#000000" stroke-width="0.15" text-anchor="start">35.0</text>
<rect x="723" y="227" width="4" height="1" fill="#808080"/>
<text transform="translate(728,231.7) scale(0.985,1)" font-family="Liberation Sans, sans-serif" font-size="11" fill="#000000" stroke="#000000" stroke-width="0.15" text-anchor="start">40.0</text>
<rect x="723" y="192" width="4" height="1" fill="#808080"/>
<text transform="translate(728,196.7) scale(0.985,1)" font-family="Liberation Sans, sans-serif" font-size="11" fill="#000000" stroke="#000000" stroke-width="0.15" text-anchor="start">45.0</text>
<rect x="723" y="158" width="4" height="1" fill="#808080"/>
<text transform="translate(728,162.7) scale(0.985,1)" font-family="Liberation Sans, sans-serif" font-size="11" fill="#000000" stroke="#000000" stroke-width="0.15" text-anchor="start">50.0</text>
<rect x="723" y="124" width="4" height="1" fill="#808080"/>
<text transform="translate(728,128.7) scale(0.985,1)" font-family="Liberation Sans, sans-serif" font-size="11" fill="#000000" stroke="#000000" stroke-width="0.15" text-anchor="start">55.0</text>
<rect x="718" y="90" width="9" height="1" fill="#808080"/>
<text transform="translate(728,94.7) scale(0.985,1)" font-family="Liberation Sans, sans-serif" font-size="11" fill="#000000" stroke="#000000" stroke-width="0.15" text-anchor="start">60.0</text>
<text transform="translate(722.5,79.2) scale(0.96,1)" font-family="Liberation Sans, sans-serif" font-size="11" fill="#000000" stroke="#000000" stroke-width="0.15" text-anchor="start">km/h</text>
<rect x="759" y="90" width="1" height="411" fill="#808080"/>
<rect x="755" y="500" width="9" height="1" fill="#808080"/>
<text transform="translate(765,504.7) scale(0.985,1)" font-family="Liberation Sans, sans-serif" font-size="11" fill="#FF8000" stroke="#FF8000" stroke-width="0.15" text-anchor="start">0</text>
<rect x="760" y="459" width="4" height="1" fill="#808080"/>
<text transform="translate(765,463.7) scale(0.985,1)" font-family="Liberation Sans, sans-serif" font-size="11" fill="#FF8000" stroke="#FF8000" stroke-width="0.15" text-anchor="start">10</text>
<rect x="760" y="418" width="4" height="1" fill="#808080"/>
<text transform="translate(765,422.7) scale(0.985,1)" font-family="Liberation Sans, sans-serif" font-size="11" fill="#FF8000" stroke="#FF8000" stroke-width="0.15" text-anchor="start">20</text>
<rect x="760" y="377" width="4" height="1" fill="#808080"/>
<text transform="translate(765,381.7) scale(0.985,1)" font-family="Liberation Sans, sans-serif" font-size="11" fill="#FF8000" stroke="#FF8000" stroke-width="0.15" text-anchor="start">30</text>
<rect x="760" y="336" width="4" height="1" fill="#808080"/>
<text transform="translate(765,340.7) scale(0.985,1)" font-family="Liberation Sans, sans-serif" font-size="11" fill="#FF8000" stroke="#FF8000" stroke-width="0.15" text-anchor="start">40</text>
<rect x="760" y="295" width="4" height="1" fill="#808080"/>
<text transform="translate(765,299.7) scale(0.985,1)" font-family="Liberation Sans, sans-serif" font-size="11" fill="#FF8000" stroke="#FF8000" stroke-width="0.15" text-anchor="start">50</text>
<rect x="760" y="254" width="4" height="1" fill="#808080"/>
<text transform="translate(765,258.7) scale(0.985,1)" font-family="Liberation Sans, sans-serif" font-size="11" fill="#FF8000" stroke="#FF8000" stroke-width="0.15" text-anchor="start">60</text>
<rect x="760" y="213" width="4" height="1" fill="#808080"/>
<text transform="translate(765,217.7) scale(0.985,1)" font-family="Liberation Sans, sans-serif" font-size="11" fill="#FF8000" stroke="#FF8000" stroke-width="0.15" text-anchor="start">70</text>
<rect x="760" y="172" width="4" height="1" fill="#808080"/>
<text transform="translate(765,176.7) scale(0.985,1)" font-family="Liberation Sans, sans-serif" font-size="11" fill="#FF8000" stroke="#FF8000" stroke-width="0.15" text-anchor="start">80</text>
<rect x="760" y="131" width="4" height="1" fill="#808080"/>
<text transform="translate(765,135.7) scale(0.985,1)" font-family="Liberation Sans, sans-serif" font-size="11" fill="#FF8000" stroke="#FF8000" stroke-width="0.15" text-anchor="start">90</text>
<rect x="755" y="90" width="9" height="1" fill="#808080"/>
<text transform="translate(765,94.7) scale(0.985,1)" font-family="Liberation Sans, sans-serif" font-size="11" fill="#FF8000" stroke="#FF8000" stroke-width="0.15" text-anchor="start">100</text>
<text transform="translate(759.5,79.2) scale(0.96,1)" font-family="Liberation Sans, sans-serif" font-size="11" fill="#FF8000" stroke="#FF8000" stroke-width="0.15" text-anchor="start">h</text>
<rect x="796" y="90" width="1" height="411" fill="#808080"/>
<rect x="792" y="500" width="9" height="1" fill="#808080"/>
<text transform="translate(802,504.7) scale(0.985,1)" font-family="Liberation Sans, sans-serif" font-size="11" fill="#FFA07A" stroke="#FFA07A" stroke-width="0.15" text-anchor="start">0</text>
<rect x="797" y="480" width="4" height="1" fill="#808080"/>
<text transform="translate(802,484.7) scale(0.985,1)" font-family="Liberation Sans, sans-serif" font-size="11" fill="#FFA07A" stroke="#FFA07A" stroke-width="0.15" text-anchor="start">50</text>
<rect x="797" y="459" width="4" height="1" fill="#808080"/>
<text transform="translate(802,463.7) scale(0.985,1)" font-family="Liberation Sans, sans-serif" font-size="11" fill="#FFA07A" stroke="#FFA07A" stroke-width="0.15" text-anchor="start">100</text>
<rect x="797" y="438" width="4" height="1" fill="#808080"/>
<text transform="translate(802,442.7) scale(0.985,1)" font-family="Liberation Sans, sans-serif" font-size="11" fill="#FFA07A" stroke="#FFA07A" stroke-width="0.15" text-anchor="start">150</text>
<rect x="797" y="418" width="4" height="1" fill="#808080"/>
<text transform="translate(802,422.7) scale(0.985,1)" font-family="Liberation Sans, sans-serif" font-size="11" fill="#FFA07A" stroke="#FFA07A" stroke-width="0.15" text-anchor="start">200</text>
<rect x="797" y="398" width="4" height="1" fill="#808080"/>
<text transform="translate(802,402.7) scale(0.985,1)" font-family="Liberation Sans, sans-serif" font-size="11" fill="#FFA07A" stroke="#FFA07A" stroke-width="0.15" text-anchor="start">250</text>
<rect x="797" y="377" width="4" height="1" fill="#808080"/>
<text transform="translate(802,381.7) scale(0.985,1)" font-family="Liberation Sans, sans-serif" font-size="11" fill="#FFA07A" stroke="#FFA07A" stroke-width="0.15" text-anchor="start">300</text>
<rect x="797" y="356" width="4" height="1" fill="#808080"/>
<text transform="translate(802,360.7) scale(0.985,1)" font-family="Liberation Sans, sans-serif" font-size="11" fill="#FFA07A" stroke="#FFA07A" stroke-width="0.15" text-anchor="start">350</text>
<rect x="797" y="336" width="4" height="1" fill="#808080"/>
<text transform="translate(802,340.7) scale(0.985,1)" font-family="Liberation Sans, sans-serif" font-size="11" fill="#FFA07A" stroke="#FFA07A" stroke-width="0.15" text-anchor="start">400</text>
<rect x="797" y="316" width="4" height="1" fill="#808080"/>
<text transform="translate(802,320.7) scale(0.985,1)" font-family="Liberation Sans, sans-serif" font-size="11" fill="#FFA07A" stroke="#FFA07A" stroke-width="0.15" text-anchor="start">450</text>
<rect x="797" y="295" width="4" height="1" fill="#808080"/>
<text transform="translate(802,299.7) scale(0.985,1)" font-family="Liberation Sans, sans-serif" font-size="11" fill="#FFA07A" stroke="#FFA07A" stroke-width="0.15" text-anchor="start">500</text>
<rect x="797" y="274" width="4" height="1" fill="#808080"/>
<text transform="translate(802,278.7) scale(0.985,1)" font-family="Liberation Sans, sans-serif" font-size="11" fill="#FFA07A" stroke="#FFA07A" stroke-width="0.15" text-anchor="start">550</text>
<rect x="797" y="254" width="4" height="1" fill="#808080"/>
<text transform="translate(802,258.7) scale(0.985,1)" font-family="Liberation Sans, sans-serif" font-size="11" fill="#FFA07A" stroke="#FFA07A" stroke-width="0.15" text-anchor="start">600</text>
<rect x="797" y="234" width="4" height="1" fill="#808080"/>
<text transform="translate(802,238.7) scale(0.985,1)" font-family="Liberation Sans, sans-serif" font-size="11" fill="#FFA07A" stroke="#FFA07A" stroke-width="0.15" text-anchor="start">650</text>
<rect x="797" y="213" width="4" height="1" fill="#808080"/>
<text transform="translate(802,217.7) scale(0.985,1)" font-family="Liberation Sans, sans-serif" font-size="11" fill="#FFA07A" stroke="#FFA07A" stroke-width="0.15" text-anchor="start">700</text>
<rect x="797" y="192" width="4" height="1" fill="#808080"/>
<text transform="translate(802,196.7) scale(0.985,1)" font-family="Liberation Sans, sans-serif" font-size="11" fill="#FFA07A" stroke="#FFA07A" stroke-width="0.15" text-anchor="start">750</text>
<rect x="797" y="172" width="4" height="1" fill="#808080"/>
<text transform="translate(802,176.7) scale(0.985,1)" font-family="Liberation Sans, sans-serif" font-size="11" fill="#FFA07A" stroke="#FFA07A" stroke-width="0.15" text-anchor="start">800</text>
<rect x="797" y="152" width="4" height="1" fill="#808080"/>
<text transform="translate(802,156.7) scale(0.985,1)" font-family="Liberation Sans, sans-serif" font-size="11" fill="#FFA07A" stroke="#FFA07A" stroke-width="0.15" text-anchor="start">850</text>
<rect x="797" y="131" width="4" height="1" fill="#808080"/>
<text transform="translate(802,135.7) scale(0.985,1)" font-family="Liberation Sans, sans-serif" font-size="11" fill="#FFA07A" stroke="#FFA07A" stroke-width="0.15" text-anchor="start">900</text>
<rect x="797" y="110" width="4" height="1" fill="#808080"/>
<text transform="translate(802,114.7) scale(0.985,1)" font-family="Liberation Sans, sans-serif" font-size="11" fill="#FFA07A" stroke="#FFA07A" stroke-width="0.15" text-anchor="start">950</text>
<rect x="792" y="90" width="9" height="1" fill="#808080"/>
<text transform="translate(802,94.7) scale(0.985,1)" font-family="Liberation Sans, sans-serif" font-size="11" fill="#FFA07A" stroke="#FFA07A" stroke-width="0.15" text-anchor="start">1000</text>
<text transform="translate(796,79.2) scale(0.96,1)" font-family="Liberation Sans, sans-serif" font-size="11" fill="#FFA07A" stroke="#FFA07A" stroke-width="0.15" text-anchor="start">W/m²</text>
<defs><clipPath id="pc"><rect x="189" y="91" width="458" height="408"/></clipPath><clipPath id="pl"><rect x="188" y="90" width="460" height="409"/></clipPath></defs>
<g clip-path="url(#pc)" shape-rendering="crispEdges">
<line x1="188" y1="336.5" x2="644.5" y2="336.5" stroke="#008040" stroke-width="1" stroke-dasharray="18,6" stroke-dashoffset="3.6"/>
<line x1="188" y1="359.5" x2="644.5" y2="359.5" stroke="#FF0080" stroke-width="1" stroke-dasharray="18,6" stroke-dashoffset="3.6"/>
<line x1="204.5" y1="90" x2="204.5" y2="499" stroke="#707070" stroke-width="1" stroke-dasharray="3,3"/>
<line x1="220.5" y1="90" x2="220.5" y2="499" stroke="#707070" stroke-width="1" stroke-dasharray="3,3"/>
<line x1="236.5" y1="90" x2="236.5" y2="499" stroke="#707070" stroke-width="1" stroke-dasharray="3,3"/>
<line x1="251.5" y1="90" x2="251.5" y2="499" stroke="#707070" stroke-width="1" stroke-dasharray="3,3"/>
<line x1="267.5" y1="90" x2="267.5" y2="499" stroke="#707070" stroke-width="1" stroke-dasharray="3,3"/>
<line x1="283.5" y1="90" x2="283.5" y2="499" stroke="#707070" stroke-width="1" stroke-dasharray="3,3"/>
<line x1="299.5" y1="90" x2="299.5" y2="499" stroke="#707070" stroke-width="1" stroke-dasharray="3,3"/>
<line x1="315.5" y1="90" x2="315.5" y2="499" stroke="#707070" stroke-width="1" stroke-dasharray="3,3"/>
<line x1="331.5" y1="90" x2="331.5" y2="499" stroke="#707070" stroke-width="1" stroke-dasharray="3,3"/>
<line x1="347.5" y1="90" x2="347.5" y2="499" stroke="#707070" stroke-width="1" stroke-dasharray="3,3"/>
<line x1="362.5" y1="90" x2="362.5" y2="499" stroke="#707070" stroke-width="1" stroke-dasharray="3,3"/>
<line x1="378.5" y1="90" x2="378.5" y2="499" stroke="#707070" stroke-width="1" stroke-dasharray="3,3"/>
<line x1="394.5" y1="90" x2="394.5" y2="499" stroke="#707070" stroke-width="1" stroke-dasharray="3,3"/>
<line x1="410.5" y1="90" x2="410.5" y2="499" stroke="#707070" stroke-width="1" stroke-dasharray="3,3"/>
<line x1="426.5" y1="90" x2="426.5" y2="499" stroke="#707070" stroke-width="1" stroke-dasharray="3,3"/>
<line x1="442.5" y1="90" x2="442.5" y2="499" stroke="#707070" stroke-width="1" stroke-dasharray="3,3"/>
<line x1="458.5" y1="90" x2="458.5" y2="499" stroke="#707070" stroke-width="1" stroke-dasharray="3,3"/>
<line x1="474.5" y1="90" x2="474.5" y2="499" stroke="#707070" stroke-width="1" stroke-dasharray="3,3"/>
<line x1="489.5" y1="90" x2="489.5" y2="499" stroke="#707070" stroke-width="1" stroke-dasharray="3,3"/>
<line x1="505.5" y1="90" x2="505.5" y2="499" stroke="#707070" stroke-width="1" stroke-dasharray="3,3"/>
<line x1="521.5" y1="90" x2="521.5" y2="499" stroke="#707070" stroke-width="1" stroke-dasharray="3,3"/>
<line x1="537.5" y1="90" x2="537.5" y2="499" stroke="#707070" stroke-width="1" stroke-dasharray="3,3"/>
<line x1="553.5" y1="90" x2="553.5" y2="499" stroke="#707070" stroke-width="1" stroke-dasharray="3,3"/>
<line x1="569.5" y1="90" x2="569.5" y2="499" stroke="#707070" stroke-width="1" stroke-dasharray="3,3"/>
<line x1="585.5" y1="90" x2="585.5" y2="499" stroke="#707070" stroke-width="1" stroke-dasharray="3,3"/>
<line x1="600.5" y1="90" x2="600.5" y2="499" stroke="#707070" stroke-width="1" stroke-dasharray="3,3"/>
<line x1="616.5" y1="90" x2="616.5" y2="499" stroke="#707070" stroke-width="1" stroke-dasharray="3,3"/>
<line x1="632.5" y1="90" x2="632.5" y2="499" stroke="#707070" stroke-width="1" stroke-dasharray="3,3"/>
<line x1="188" y1="116.5" x2="647" y2="116.5" stroke="#707070" stroke-width="1" stroke-dasharray="3,3"/>
<line x1="188" y1="141.5" x2="647" y2="141.5" stroke="#707070" stroke-width="1" stroke-dasharray="3,3"/>
<line x1="188" y1="167.5" x2="647" y2="167.5" stroke="#707070" stroke-width="1" stroke-dasharray="3,3"/>
<line x1="188" y1="192.5" x2="647" y2="192.5" stroke="#707070" stroke-width="1" stroke-dasharray="3,3"/>
<line x1="188" y1="218.5" x2="647" y2="218.5" stroke="#707070" stroke-width="1" stroke-dasharray="3,3"/>
<line x1="188" y1="244.5" x2="647" y2="244.5" stroke="#707070" stroke-width="1" stroke-dasharray="3,3"/>
<line x1="188" y1="269.5" x2="647" y2="269.5" stroke="#707070" stroke-width="1" stroke-dasharray="3,3"/>
<line x1="188" y1="295.5" x2="647" y2="295.5" stroke="#707070" stroke-width="1" stroke-dasharray="3,3"/>
<line x1="188" y1="321.5" x2="647" y2="321.5" stroke="#707070" stroke-width="1" stroke-dasharray="3,3"/>
<line x1="188" y1="346.5" x2="647" y2="346.5" stroke="#707070" stroke-width="1" stroke-dasharray="3,3"/>
<line x1="188" y1="372.5" x2="647" y2="372.5" stroke="#707070" stroke-width="1" stroke-dasharray="3,3"/>
<line x1="188" y1="398.5" x2="647" y2="398.5" stroke="#707070" stroke-width="1" stroke-dasharray="3,3"/>
<line x1="188" y1="423.5" x2="647" y2="423.5" stroke="#707070" stroke-width="1" stroke-dasharray="3,3"/>
<line x1="188" y1="449.5" x2="647" y2="449.5" stroke="#707070" stroke-width="1" stroke-dasharray="3,3"/>
<line x1="188" y1="474.5" x2="647" y2="474.5" stroke="#707070" stroke-width="1" stroke-dasharray="3,3"/>
</g>
<g shape-rendering="crispEdges" fill="#808080">
<rect x="187" y="89" width="462" height="2"/>
<rect x="187" y="499" width="462" height="2"/>
<rect x="187" y="89" width="2" height="412"/>
<rect x="647" y="89" width="2" height="412"/>
</g>
<g clip-path="url(#pc)" shape-rendering="crispEdges">
<path d="M185,499 V458.2 Q185,454.2 188,454.2 Q191,454.2 191,458.2 V499 Z" fill="#FF8000"/>
<path d="M201,499 V492.5 Q201,488.5 204,488.5 Q207,488.5 207,492.5 V499 Z" fill="#FF8000"/>
<path d="M217,499 V460.0 Q217,456.0 220,456.0 Q223,456.0 223,460.0 V499 Z" fill="#FF8000"/>
<path d="M248,499 V474.9 Q248,470.9 251,470.9 Q254,470.9 254,474.9 V499 Z" fill="#FF8000"/>
<path d="M264,499 V498.0 Q264,494.0 267,494.0 Q270,494.0 270,498.0 V499 Z" fill="#FF8000"/>
<path d="M280,499 V488.8 Q280,484.8 283,484.8 Q286,484.8 286,488.8 V499 Z" fill="#FF8000"/>
<path d="M296,499 V484.7 Q296,480.7 299,480.7 Q302,480.7 302,484.7 V499 Z" fill="#FF8000"/>
<path d="M312,499 V463.8 Q312,459.8 315,459.8 Q318,459.8 318,463.8 V499 Z" fill="#FF8000"/>
<path d="M328,499 V460.0 Q328,456.0 331,456.0 Q334,456.0 334,460.0 V499 Z" fill="#FF8000"/>
<path d="M344,499 V453.5 Q344,449.5 347,449.5 Q350,449.5 350,453.5 V499 Z" fill="#FF8000"/>
<path d="M359,499 V452.6 Q359,448.6 362,448.6 Q365,448.6 365,452.6 V499 Z" fill="#FF8000"/>
<path d="M375,499 V453.5 Q375,449.5 378,449.5 Q381,449.5 381,453.5 V499 Z" fill="#FF8000"/>
<path d="M391,499 V453.9 Q391,449.9 394,449.9 Q397,449.9 397,453.9 V499 Z" fill="#FF8000"/>
<path d="M407,499 V493.5 Q407,489.5 410,489.5 Q413,489.5 413,493.5 V499 Z" fill="#FF8000"/>
<path d="M423,499 V461.9 Q423,457.9 426,457.9 Q429,457.9 429,461.9 V499 Z" fill="#FF8000"/>
<path d="M439,499 V456.3 Q439,452.3 442,452.3 Q445,452.3 445,456.3 V499 Z" fill="#FF8000"/>
<path d="M455,499 V456.3 Q455,452.3 458,452.3 Q461,452.3 461,456.3 V499 Z" fill="#FF8000"/>
<path d="M471,499 V453.5 Q471,449.5 474,449.5 Q477,449.5 477,453.5 V499 Z" fill="#FF8000"/>
<path d="M486,499 V453.8 Q486,449.8 489,449.8 Q492,449.8 492,453.8 V499 Z" fill="#FF8000"/>
<path d="M502,499 V456.2 Q502,452.2 505,452.2 Q508,452.2 508,456.2 V499 Z" fill="#FF8000"/>
<path d="M518,499 V454.3 Q518,450.3 521,450.3 Q524,450.3 524,454.3 V499 Z" fill="#FF8000"/>
<path d="M534,499 V478.0 Q534,474.0 537,474.0 Q540,474.0 540,478.0 V499 Z" fill="#FF8000"/>
<path d="M550,499 V453.3 Q550,449.3 553,449.3 Q556,449.3 556,453.3 V499 Z" fill="#FF8000"/>
<path d="M566,499 V454.3 Q566,450.3 569,450.3 Q572,450.3 572,454.3 V499 Z" fill="#FF8000"/>
<path d="M582,499 V461.6 Q582,457.6 585,457.6 Q588,457.6 588,461.6 V499 Z" fill="#FF8000"/>
<path d="M597,499 V497.7 Q597,493.7 600,493.7 Q603,493.7 603,497.7 V499 Z" fill="#FF8000"/>
<path d="M613,499 V460.8 Q613,456.8 616,456.8 Q619,456.8 619,460.8 V499 Z" fill="#FF8000"/>
<path d="M629,499 V453.7 Q629,449.7 632,449.7 Q635,449.7 635,453.7 V499 Z" fill="#FF8000"/>
<path d="M645,499 V455.2 Q645,451.2 648,451.2 Q651,451.2 651,455.2 V499 Z" fill="#FF8000"/>
</g>
<g clip-path="url(#pl)" shape-rendering="crispEdges">
<polyline points="188.5,218.5 204.5,141.5 220.5,321.5 236.5,321.5 251.5,244.5 267.5,244.5 283.5,244.5 299.5,244.5 315.5,244.5 331.5,244.5 347.5,474.5 362.5,372.5 378.5,398.5 394.5,244.5 410.5,116.5 426.5,474.5 442.5,90.5 458.5,116.5 474.5,449.5 489.5,474.5 505.5,423.5 521.5,321.5 537.5,244.5 553.5,244.5 569.5,244.5 585.5,244.5 600.5,244.5 616.5,244.5 632.5,474.5 648.5,449.5" fill="none" stroke="#fff" stroke-width="1" />
<polyline points="188.5,218.5 204.5,141.5 220.5,321.5 236.5,321.5 251.5,244.5 267.5,244.5 283.5,244.5 299.5,244.5 315.5,244.5 331.5,244.5 347.5,474.5 362.5,372.5 378.5,398.5 394.5,244.5 410.5,116.5 426.5,474.5 442.5,90.5 458.5,116.5 474.5,449.5 489.5,474.5 505.5,423.5 521.5,321.5 537.5,244.5 553.5,244.5 569.5,244.5 585.5,244.5 600.5,244.5 616.5,244.5 632.5,474.5 648.5,449.5" fill="none" stroke="#808080" stroke-width="1" stroke-dasharray="3,3"/>
<polyline points="188.5,456.5 204.5,490.5 220.5,461.5 236.5,479.5 251.5,450.5 267.5,445.5 283.5,447.5 299.5,429.5 315.5,483.5 331.5,447.5 347.5,467.5 362.5,467.5 378.5,475.5 394.5,461.5 410.5,473.5 426.5,472.5 442.5,484.5 458.5,479.5 474.5,453.5 489.5,463.5 505.5,480.5 521.5,469.5 537.5,424.5 553.5,439.5 569.5,469.5 585.5,426.5 600.5,488.5 616.5,477.5 632.5,475.5 648.5,478.5" fill="none" stroke="#C0C0C0" stroke-width="1" />
<polyline points="188.5,340.5 204.5,422.5 220.5,328.5 236.5,456.5 251.5,371.5 267.5,429.5 283.5,400.5 299.5,392.5 315.5,340.5 331.5,343.5 347.5,314.5 362.5,316.5 378.5,321.5 394.5,323.5 410.5,419.5 426.5,330.5 442.5,319.5 458.5,318.5 474.5,318.5 489.5,314.5 505.5,318.5 521.5,316.5 537.5,384.5 553.5,316.5 569.5,319.5 585.5,323.5 600.5,440.5 616.5,324.5 632.5,317.5 648.5,322.5" fill="none" stroke="#FFA07A" stroke-width="1" />
<polyline points="188.5,406.5 204.5,439.5 220.5,409.5 236.5,475.5 251.5,428.5 267.5,435.5 283.5,410.5 299.5,417.5 315.5,415.5 331.5,416.5 347.5,380.5 362.5,376.5 378.5,383.5 394.5,390.5 410.5,421.5 426.5,394.5 442.5,386.5 458.5,391.5 474.5,384.5 489.5,388.5 505.5,390.5 521.5,384.5 537.5,399.5 553.5,376.5 569.5,382.5 585.5,384.5 600.5,427.5 616.5,356.5 632.5,360.5 648.5,364.5" fill="none" stroke="#FFFF00" stroke-width="1" />
<polyline points="188.5,353.5 204.5,383.5 220.5,379.5 236.5,367.5 251.5,399.5 267.5,382.5 283.5,393.5 299.5,427.5 315.5,459.5 331.5,422.5 347.5,436.5 362.5,430.5 378.5,384.5 394.5,370.5 410.5,344.5 426.5,389.5 442.5,392.5 458.5,383.5 474.5,380.5 489.5,422.5 505.5,433.5 521.5,381.5 537.5,372.5 553.5,418.5 569.5,377.5 585.5,354.5 600.5,342.5 616.5,347.5 632.5,347.5 648.5,346.5" fill="none" stroke="#00FF00" stroke-width="1" />
<polyline points="188.5,354.5 204.5,372.5 220.5,341.5 236.5,201.5 251.5,347.5 267.5,330.5 283.5,328.5 299.5,292.5 315.5,491.5 331.5,497.5 347.5,498.5 362.5,500.5 378.5,500.5 394.5,500.5 410.5,330.5 426.5,352.5 442.5,472.5 458.5,458.5 474.5,500.5 489.5,500.5 505.5,499.5 521.5,498.5 537.5,498.5 553.5,500.5 569.5,500.5 585.5,494.5 600.5,445.5 616.5,395.5 632.5,495.5 648.5,496.5" fill="none" stroke="#00FFFF" stroke-width="1" />
<polyline points="188.5,196.5 204.5,177.5 220.5,180.5 236.5,132.5 251.5,189.5 267.5,155.5 283.5,176.5 299.5,186.5 315.5,224.5 331.5,232.5 347.5,254.5 362.5,284.5 378.5,284.5 394.5,293.5 410.5,149.5 426.5,196.5 442.5,226.5 458.5,234.5 474.5,244.5 489.5,275.5 505.5,301.5 521.5,281.5 537.5,264.5 553.5,283.5 569.5,282.5 585.5,246.5 600.5,184.5 616.5,230.5 632.5,257.5 648.5,269.5" fill="none" stroke="#8080FF" stroke-width="1" />
<polyline points="188.5,367.5 204.5,343.5 220.5,376.5 236.5,446.5 251.5,407.5 267.5,414.5 283.5,415.5 299.5,363.5 315.5,188.5 331.5,294.5 347.5,257.5 362.5,304.5 378.5,289.5 394.5,316.5 410.5,274.5 426.5,143.5 442.5,163.5 458.5,219.5 474.5,207.5 489.5,197.5 505.5,255.5 521.5,325.5 537.5,394.5 553.5,358.5 569.5,394.5 585.5,378.5 600.5,219.5 616.5,177.5 632.5,215.5 648.5,300.5" fill="none" stroke="#FF0080" stroke-width="1" />
<polyline points="188.5,287.5 204.5,333.5 220.5,315.5 236.5,347.5 251.5,344.5 267.5,352.5 283.5,347.5 299.5,373.5 315.5,364.5 331.5,326.5 347.5,299.5 362.5,281.5 378.5,243.5 394.5,227.5 410.5,304.5 426.5,311.5 442.5,292.5 458.5,273.5 474.5,260.5 489.5,259.5 505.5,251.5 521.5,226.5 537.5,253.5 553.5,250.5 569.5,219.5 585.5,227.5 600.5,287.5 616.5,237.5 632.5,206.5 648.5,200.5" fill="none" stroke="#804000" stroke-width="1" />
<polyline points="188.5,500.5 204.5,463.5 220.5,461.5 236.5,381.5 251.5,381.5 267.5,351.5 283.5,335.5 299.5,279.5 315.5,279.5 331.5,279.5 347.5,279.5 362.5,279.5 378.5,279.5 394.5,279.5 410.5,131.5 426.5,123.5 442.5,123.5 458.5,123.5 474.5,123.5 489.5,123.5 505.5,123.5 521.5,123.5 537.5,123.5 553.5,123.5 569.5,123.5 585.5,123.5 600.5,117.5 616.5,117.5 632.5,117.5 648.5,117.5" fill="none" stroke="#0000FF" stroke-width="1" />
<polyline points="188.5,287.5 204.5,333.5 220.5,324.5 236.5,345.5 251.5,339.5 267.5,346.5 283.5,345.5 299.5,375.5 315.5,377.5 331.5,330.5 347.5,326.5 362.5,290.5 378.5,242.5 394.5,224.5 410.5,309.5 426.5,318.5 442.5,302.5 458.5,281.5 474.5,276.5 489.5,287.5 505.5,272.5 521.5,238.5 537.5,254.5 553.5,277.5 569.5,233.5 585.5,247.5 600.5,286.5 616.5,249.5 632.5,227.5 648.5,215.5" fill="none" stroke="#008000" stroke-width="2" />
<polyline points="188.5,492.5 204.5,499.5 220.5,496.5 236.5,499.5 251.5,492.5 267.5,493.5 283.5,488.5 299.5,484.5 315.5,498.5 331.5,490.5 347.5,496.5 362.5,496.5 378.5,498.5 394.5,493.5 410.5,494.5 426.5,496.5 442.5,499.5 458.5,497.5 474.5,491.5 489.5,495.5 505.5,498.5 521.5,495.5 537.5,479.5 553.5,483.5 569.5,495.5 585.5,480.5 600.5,499.5 616.5,497.5 632.5,496.5 648.5,497.5" fill="none" stroke="#000000" stroke-width="1" />
<rect x="203" y="463.5" width="2" height="35.5" fill="#0000FF"/>
<rect x="219" y="498.0" width="2" height="1.0" fill="#0000FF"/>
<rect x="235" y="419.8" width="2" height="79.2" fill="#0000FF"/>
<rect x="266" y="468.5" width="2" height="30.5" fill="#0000FF"/>
<rect x="282" y="483.9" width="2" height="15.1" fill="#0000FF"/>
<rect x="298" y="444.9" width="2" height="54.1" fill="#0000FF"/>
<rect x="409" y="352.3" width="2" height="146.7" fill="#0000FF"/>
<rect x="425" y="492.2" width="2" height="6.8" fill="#0000FF"/>
<rect x="599" y="494.3" width="2" height="4.7" fill="#0000FF"/>
</g>
<rect x="188" y="501" width="1" height="4" fill="#808080"/>
<text transform="translate(188.5,519) scale(0.88,1)" font-family="Liberation Sans, sans-serif" font-size="12" fill="#000" stroke="#000" stroke-width="0.15" text-anchor="middle">1</text>
<rect x="204" y="501" width="1" height="4" fill="#808080"/>
<text transform="translate(204.5,519) scale(0.88,1)" font-family="Liberation Sans, sans-serif" font-size="12" fill="#000" stroke="#000" stroke-width="0.15" text-anchor="middle">2</text>
<rect x="220" y="501" width="1" height="4" fill="#808080"/>
<text transform="translate(220.5,519) scale(0.88,1)" font-family="Liberation Sans, sans-serif" font-size="12" fill="#000" stroke="#000" stroke-width="0.15" text-anchor="middle">3</text>
<rect x="236" y="501" width="1" height="4" fill="#808080"/>
<text transform="translate(236.5,519) scale(0.88,1)" font-family="Liberation Sans, sans-serif" font-size="12" fill="#000" stroke="#000" stroke-width="0.15" text-anchor="middle">4</text>
<rect x="251" y="501" width="1" height="4" fill="#808080"/>
<text transform="translate(251.5,519) scale(0.88,1)" font-family="Liberation Sans, sans-serif" font-size="12" fill="#000" stroke="#000" stroke-width="0.15" text-anchor="middle">5</text>
<rect x="267" y="501" width="1" height="4" fill="#808080"/>
<text transform="translate(267.5,519) scale(0.88,1)" font-family="Liberation Sans, sans-serif" font-size="12" fill="#000" stroke="#000" stroke-width="0.15" text-anchor="middle">6</text>
<rect x="283" y="501" width="1" height="4" fill="#808080"/>
<text transform="translate(283.5,519) scale(0.88,1)" font-family="Liberation Sans, sans-serif" font-size="12" fill="#000" stroke="#000" stroke-width="0.15" text-anchor="middle">7</text>
<rect x="299" y="501" width="1" height="4" fill="#808080"/>
<text transform="translate(299.5,519) scale(0.88,1)" font-family="Liberation Sans, sans-serif" font-size="12" fill="#000" stroke="#000" stroke-width="0.15" text-anchor="middle">8</text>
<rect x="315" y="501" width="1" height="4" fill="#808080"/>
<text transform="translate(315.5,519) scale(0.88,1)" font-family="Liberation Sans, sans-serif" font-size="12" fill="#000" stroke="#000" stroke-width="0.15" text-anchor="middle">9</text>
<rect x="331" y="501" width="1" height="4" fill="#808080"/>
<text transform="translate(331.5,519) scale(0.88,1)" font-family="Liberation Sans, sans-serif" font-size="12" fill="#000" stroke="#000" stroke-width="0.15" text-anchor="middle">10</text>
<rect x="347" y="501" width="1" height="4" fill="#808080"/>
<text transform="translate(347.5,519) scale(0.88,1)" font-family="Liberation Sans, sans-serif" font-size="12" fill="#000" stroke="#000" stroke-width="0.15" text-anchor="middle">11</text>
<rect x="362" y="501" width="1" height="4" fill="#808080"/>
<text transform="translate(362.5,519) scale(0.88,1)" font-family="Liberation Sans, sans-serif" font-size="12" fill="#000" stroke="#000" stroke-width="0.15" text-anchor="middle">12</text>
<rect x="378" y="501" width="1" height="4" fill="#808080"/>
<text transform="translate(378.5,519) scale(0.88,1)" font-family="Liberation Sans, sans-serif" font-size="12" fill="#000" stroke="#000" stroke-width="0.15" text-anchor="middle">13</text>
<rect x="394" y="501" width="1" height="4" fill="#808080"/>
<text transform="translate(394.5,519) scale(0.88,1)" font-family="Liberation Sans, sans-serif" font-size="12" fill="#000" stroke="#000" stroke-width="0.15" text-anchor="middle">14</text>
<rect x="410" y="501" width="1" height="4" fill="#808080"/>
<text transform="translate(410.5,519) scale(0.88,1)" font-family="Liberation Sans, sans-serif" font-size="12" fill="#000" stroke="#000" stroke-width="0.15" text-anchor="middle">15</text>
<rect x="426" y="501" width="1" height="4" fill="#808080"/>
<text transform="translate(426.5,519) scale(0.88,1)" font-family="Liberation Sans, sans-serif" font-size="12" fill="#000" stroke="#000" stroke-width="0.15" text-anchor="middle">16</text>
<rect x="442" y="501" width="1" height="4" fill="#808080"/>
<text transform="translate(442.5,519) scale(0.88,1)" font-family="Liberation Sans, sans-serif" font-size="12" fill="#000" stroke="#000" stroke-width="0.15" text-anchor="middle">17</text>
<rect x="458" y="501" width="1" height="4" fill="#808080"/>
<text transform="translate(458.5,519) scale(0.88,1)" font-family="Liberation Sans, sans-serif" font-size="12" fill="#000" stroke="#000" stroke-width="0.15" text-anchor="middle">18</text>
<rect x="474" y="501" width="1" height="4" fill="#808080"/>
<text transform="translate(474.5,519) scale(0.88,1)" font-family="Liberation Sans, sans-serif" font-size="12" fill="#000" stroke="#000" stroke-width="0.15" text-anchor="middle">19</text>
<rect x="489" y="501" width="1" height="4" fill="#808080"/>
<text transform="translate(489.5,519) scale(0.88,1)" font-family="Liberation Sans, sans-serif" font-size="12" fill="#000" stroke="#000" stroke-width="0.15" text-anchor="middle">20</text>
<rect x="505" y="501" width="1" height="4" fill="#808080"/>
<text transform="translate(505.5,519) scale(0.88,1)" font-family="Liberation Sans, sans-serif" font-size="12" fill="#000" stroke="#000" stroke-width="0.15" text-anchor="middle">21</text>
<rect x="521" y="501" width="1" height="4" fill="#808080"/>
<text transform="translate(521.5,519) scale(0.88,1)" font-family="Liberation Sans, sans-serif" font-size="12" fill="#000" stroke="#000" stroke-width="0.15" text-anchor="middle">22</text>
<rect x="537" y="501" width="1" height="4" fill="#808080"/>
<text transform="translate(537.5,519) scale(0.88,1)" font-family="Liberation Sans, sans-serif" font-size="12" fill="#000" stroke="#000" stroke-width="0.15" text-anchor="middle">23</text>
<rect x="553" y="501" width="1" height="4" fill="#808080"/>
<text transform="translate(553.5,519) scale(0.88,1)" font-family="Liberation Sans, sans-serif" font-size="12" fill="#000" stroke="#000" stroke-width="0.15" text-anchor="middle">24</text>
<rect x="569" y="501" width="1" height="4" fill="#808080"/>
<text transform="translate(569.5,519) scale(0.88,1)" font-family="Liberation Sans, sans-serif" font-size="12" fill="#000" stroke="#000" stroke-width="0.15" text-anchor="middle">25</text>
<rect x="585" y="501" width="1" height="4" fill="#808080"/>
<text transform="translate(585.5,519) scale(0.88,1)" font-family="Liberation Sans, sans-serif" font-size="12" fill="#000" stroke="#000" stroke-width="0.15" text-anchor="middle">26</text>
<rect x="600" y="501" width="1" height="4" fill="#808080"/>
<text transform="translate(600.5,519) scale(0.88,1)" font-family="Liberation Sans, sans-serif" font-size="12" fill="#000" stroke="#000" stroke-width="0.15" text-anchor="middle">27</text>
<rect x="616" y="501" width="1" height="4" fill="#808080"/>
<text transform="translate(616.5,519) scale(0.88,1)" font-family="Liberation Sans, sans-serif" font-size="12" fill="#000" stroke="#000" stroke-width="0.15" text-anchor="middle">28</text>
<rect x="632" y="501" width="1" height="4" fill="#808080"/>
<text transform="translate(632.5,519) scale(0.88,1)" font-family="Liberation Sans, sans-serif" font-size="12" fill="#000" stroke="#000" stroke-width="0.15" text-anchor="middle">29</text>
<rect x="648" y="501" width="1" height="4" fill="#808080"/>
<text transform="translate(648.5,519) scale(0.88,1)" font-family="Liberation Sans, sans-serif" font-size="12" fill="#000" stroke="#000" stroke-width="0.15" text-anchor="middle">30</text>
<rect x="353" y="496" width="1" height="12" fill="#000"/>
<circle cx="353.5" cy="525.5" r="5" fill="#fff" stroke="#000" stroke-width="1"/>
<rect x="577" y="496" width="1" height="12" fill="#000"/>
<circle cx="577.5" cy="525.5" r="4.5" fill="#000"/>
<path d="M575,522.5 Q573.5,525.5 575,528.5" fill="none" stroke="#fff" stroke-width="0.8"/>
<rect x="0" y="534" width="835" height="86" fill="#C0C0C0"/>
<rect x="87" y="534" width="1" height="86" fill="#fff"/>
<rect x="88" y="534" width="1" height="86" fill="#808080"/>
<rect x="204" y="534" width="1" height="86" fill="#fff"/>
<rect x="205" y="534" width="1" height="86" fill="#808080"/>
<rect x="322" y="534" width="1" height="86" fill="#fff"/>
<rect x="323" y="534" width="1" height="86" fill="#808080"/>
<rect x="440" y="534" width="1" height="86" fill="#fff"/>
<rect x="441" y="534" width="1" height="86" fill="#808080"/>
<rect x="558" y="534" width="1" height="86" fill="#fff"/>
<rect x="559" y="534" width="1" height="86" fill="#808080"/>
<rect x="676" y="534" width="1" height="86" fill="#fff"/>
<rect x="677" y="534" width="1" height="86" fill="#808080"/>
<rect x="794" y="534" width="1" height="86" fill="#fff"/>
<rect x="795" y="534" width="1" height="86" fill="#808080"/>
<rect x="0" y="534" width="835" height="1" fill="#b6b6b6"/>
<rect x="0" y="534" width="1" height="86" fill="#fff"/>
<text x="8.35" y="551.2" font-family="Liberation Sans, sans-serif" font-size="12" fill="#000" text-anchor="start" font-weight="bold" textLength="39.1" lengthAdjust="spacingAndGlyphs">Sensor</text>
<text x="8.35" y="567.2" font-family="Liberation Sans, sans-serif" font-size="12" fill="#000" text-anchor="start" font-weight="bold" textLength="46.9" lengthAdjust="spacingAndGlyphs">MinWert</text>
<text x="8.35" y="583.2" font-family="Liberation Sans, sans-serif" font-size="12" fill="#000" text-anchor="start" font-weight="bold" textLength="49.9" lengthAdjust="spacingAndGlyphs">MaxWert</text>
<text x="8.35" y="599.2" font-family="Liberation Sans, sans-serif" font-size="12" fill="#000" text-anchor="start" font-weight="bold" textLength="72.1" lengthAdjust="spacingAndGlyphs">Durchschnitt</text>
<text x="8.35" y="615.2" font-family="Liberation Sans, sans-serif" font-size="12" fill="#000" text-anchor="start" font-weight="bold" textLength="34.9" lengthAdjust="spacingAndGlyphs">30.06.</text>
<text x="94.55" y="551.2" font-family="Liberation Sans, sans-serif" font-size="12" fill="#000" text-anchor="start" font-weight="bold" textLength="64.3" lengthAdjust="spacingAndGlyphs">T- 2m aktiv</text>
<text x="199.15" y="551.2" font-family="Liberation Sans, sans-serif" font-size="12" fill="#000" text-anchor="end" font-weight="bold" textLength="13.0" lengthAdjust="spacingAndGlyphs">°C</text>
<text x="94.55" y="567.2" font-family="Liberation Sans, sans-serif" font-size="12" fill="#000" text-anchor="start" textLength="62.9" lengthAdjust="spacingAndGlyphs">09.06.  02:20</text>
<text x="199.15" y="567.2" font-family="Liberation Sans, sans-serif" font-size="12" fill="#000" text-anchor="end" textLength="16.6" lengthAdjust="spacingAndGlyphs">9.0</text>
<text x="94.55" y="583.2" font-family="Liberation Sans, sans-serif" font-size="12" fill="#000" text-anchor="start" textLength="62.9" lengthAdjust="spacingAndGlyphs">22.06.  16:50</text>
<text x="199.15" y="583.2" font-family="Liberation Sans, sans-serif" font-size="12" fill="#000" text-anchor="end" textLength="21.6" lengthAdjust="spacingAndGlyphs">35.6</text>
<text x="99.55" y="599.2" font-family="Liberation Sans, sans-serif" font-size="12" fill="#000" text-anchor="start" textLength="39.7" lengthAdjust="spacingAndGlyphs">(+ 3.42 )</text>
<text x="199.15" y="599.2" font-family="Liberation Sans, sans-serif" font-size="12" fill="#000" text-anchor="end" textLength="28.1" lengthAdjust="spacingAndGlyphs">22.22</text>
<text x="199.15" y="615.2" font-family="Liberation Sans, sans-serif" font-size="12" fill="#000" text-anchor="end" font-weight="bold" textLength="26.1" lengthAdjust="spacingAndGlyphs">28.2</text>
<text x="212.15" y="551.2" font-family="Liberation Sans, sans-serif" font-size="12" fill="#000" text-anchor="start" font-weight="bold" textLength="63.3" lengthAdjust="spacingAndGlyphs">F- 2m aktiv</text>
<text x="316.65" y="551.2" font-family="Liberation Sans, sans-serif" font-size="12" fill="#000" text-anchor="end" font-weight="bold" textLength="9.1" lengthAdjust="spacingAndGlyphs">%</text>
<text x="212.15" y="567.2" font-family="Liberation Sans, sans-serif" font-size="12" fill="#000" text-anchor="start" textLength="63.3" lengthAdjust="spacingAndGlyphs">21.06.  17:40</text>
<text x="316.65" y="567.2" font-family="Liberation Sans, sans-serif" font-size="12" fill="#000" text-anchor="end" textLength="12.1" lengthAdjust="spacingAndGlyphs">25</text>
<text x="212.15" y="583.2" font-family="Liberation Sans, sans-serif" font-size="12" fill="#000" text-anchor="start" textLength="63.3" lengthAdjust="spacingAndGlyphs">05.06.  00:15</text>
<text x="316.65" y="583.2" font-family="Liberation Sans, sans-serif" font-size="12" fill="#000" text-anchor="end" textLength="12.1" lengthAdjust="spacingAndGlyphs">97</text>
<text x="316.65" y="599.2" font-family="Liberation Sans, sans-serif" font-size="12" fill="#000" text-anchor="end" textLength="12.1" lengthAdjust="spacingAndGlyphs">66</text>
<text x="215.15" y="615.2" font-family="Liberation Sans, sans-serif" font-size="12" fill="#000" text-anchor="start" textLength="52.7" lengthAdjust="spacingAndGlyphs">15.47 g/m³</text>
<text x="316.65" y="615.2" font-family="Liberation Sans, sans-serif" font-size="12" fill="#000" text-anchor="end" font-weight="bold" textLength="14.5" lengthAdjust="spacingAndGlyphs">56</text>
<text x="330.35" y="551.2" font-family="Liberation Sans, sans-serif" font-size="12" fill="#000" text-anchor="start" font-weight="bold" textLength="53.7" lengthAdjust="spacingAndGlyphs">Luftdruck</text>
<text x="434.45" y="551.2" font-family="Liberation Sans, sans-serif" font-size="12" fill="#000" text-anchor="end" font-weight="bold" textLength="21.9" lengthAdjust="spacingAndGlyphs">hPa</text>
<text x="330.35" y="567.2" font-family="Liberation Sans, sans-serif" font-size="12" fill="#000" text-anchor="start" textLength="63.3" lengthAdjust="spacingAndGlyphs">04.06.  16:35</text>
<text x="434.45" y="567.2" font-family="Liberation Sans, sans-serif" font-size="12" fill="#000" text-anchor="end" textLength="32.9" lengthAdjust="spacingAndGlyphs">1007.4</text>
<text x="330.35" y="583.2" font-family="Liberation Sans, sans-serif" font-size="12" fill="#000" text-anchor="start" textLength="63.3" lengthAdjust="spacingAndGlyphs">16.06.  10:15</text>
<text x="434.45" y="583.2" font-family="Liberation Sans, sans-serif" font-size="12" fill="#000" text-anchor="end" textLength="32.9" lengthAdjust="spacingAndGlyphs">1025.8</text>
<text x="434.45" y="599.2" font-family="Liberation Sans, sans-serif" font-size="12" fill="#000" text-anchor="end" textLength="32.9" lengthAdjust="spacingAndGlyphs">1016.2</text>
<text x="434.45" y="615.2" font-family="Liberation Sans, sans-serif" font-size="12" fill="#000" text-anchor="end" font-weight="bold" textLength="37.9" lengthAdjust="spacingAndGlyphs">1016.1</text>
<text x="447.85" y="551.2" font-family="Liberation Sans, sans-serif" font-size="12" fill="#000" text-anchor="start" font-weight="bold" textLength="57.7" lengthAdjust="spacingAndGlyphs">Windböen</text>
<text x="552.65" y="551.2" font-family="Liberation Sans, sans-serif" font-size="12" fill="#000" text-anchor="end" font-weight="bold" textLength="29.4" lengthAdjust="spacingAndGlyphs">km/h</text>
<text x="448.55" y="567.2" font-family="Liberation Sans, sans-serif" font-size="12" fill="#000" text-anchor="start" textLength="63.1" lengthAdjust="spacingAndGlyphs">01.06.  00:05</text>
<text x="552.65" y="567.2" font-family="Liberation Sans, sans-serif" font-size="12" fill="#000" text-anchor="end" textLength="15.3" lengthAdjust="spacingAndGlyphs">0.0</text>
<text x="448.55" y="583.2" font-family="Liberation Sans, sans-serif" font-size="12" fill="#000" text-anchor="start" textLength="59.4" lengthAdjust="spacingAndGlyphs">26.06.  03:4</text>
<text x="552.65" y="583.2" font-family="Liberation Sans, sans-serif" font-size="12" fill="#000" text-anchor="end" textLength="46.1" lengthAdjust="spacingAndGlyphs">CSW 37.0</text>
<text x="552.65" y="599.2" font-family="Liberation Sans, sans-serif" font-size="12" fill="#000" text-anchor="end" textLength="15.3" lengthAdjust="spacingAndGlyphs">5.3</text>
<text x="454.35" y="615.2" font-family="Liberation Sans, sans-serif" font-size="12" fill="#000" text-anchor="start" textLength="40.4" lengthAdjust="spacingAndGlyphs">1 Bft NO</text>
<text x="552.65" y="615.2" font-family="Liberation Sans, sans-serif" font-size="12" fill="#000" text-anchor="end" font-weight="bold" textLength="17.8" lengthAdjust="spacingAndGlyphs">3.0</text>
<text x="566.05" y="551.2" font-family="Liberation Sans, sans-serif" font-size="12" fill="#000" text-anchor="start" font-weight="bold" textLength="37.6" lengthAdjust="spacingAndGlyphs">Regen</text>
<text x="670.75" y="551.2" font-family="Liberation Sans, sans-serif" font-size="12" fill="#000" text-anchor="end" font-weight="bold" textLength="22.3" lengthAdjust="spacingAndGlyphs">l/m²</text>
<text x="566.05" y="567.2" font-family="Liberation Sans, sans-serif" font-size="12" fill="#000" text-anchor="start" textLength="68.4" lengthAdjust="spacingAndGlyphs">Regentage: 18</text>
<text x="566.05" y="583.2" font-family="Liberation Sans, sans-serif" font-size="12" fill="#000" text-anchor="start" textLength="63.1" lengthAdjust="spacingAndGlyphs">15.06.  07:20</text>
<text x="670.75" y="583.2" font-family="Liberation Sans, sans-serif" font-size="12" fill="#000" text-anchor="end" textLength="21.6" lengthAdjust="spacingAndGlyphs">14.4</text>
<text x="566.05" y="599.2" font-family="Liberation Sans, sans-serif" font-size="12" fill="#000" text-anchor="start" textLength="38.6" lengthAdjust="spacingAndGlyphs">Gesamt:</text>
<text x="670.75" y="599.2" font-family="Liberation Sans, sans-serif" font-size="12" fill="#000" text-anchor="end" textLength="21.6" lengthAdjust="spacingAndGlyphs">37.4</text>
<text x="569.35" y="615.2" font-family="Liberation Sans, sans-serif" font-size="12" fill="#000" text-anchor="start" textLength="43.6" lengthAdjust="spacingAndGlyphs">37.4 l/m²</text>
<text x="670.75" y="615.2" font-family="Liberation Sans, sans-serif" font-size="12" fill="#000" text-anchor="end" font-weight="bold" textLength="18.5" lengthAdjust="spacingAndGlyphs">0.0</text>
<text x="684.15" y="551.2" font-family="Liberation Sans, sans-serif" font-size="12" fill="#000" text-anchor="start" font-weight="bold" textLength="58.5" lengthAdjust="spacingAndGlyphs">PMV+3:32</text>
<text x="684.15" y="567.2" font-family="Liberation Sans, sans-serif" font-size="12" fill="#000" text-anchor="start" textLength="56.5" lengthAdjust="spacingAndGlyphs">WC 28.2 °C</text>
<text x="684.95" y="583.2" font-family="Liberation Sans, sans-serif" font-size="12" fill="#000" text-anchor="start" textLength="51.7" lengthAdjust="spacingAndGlyphs">TP 18.0 °C</text>
</svg>
</body></html>
